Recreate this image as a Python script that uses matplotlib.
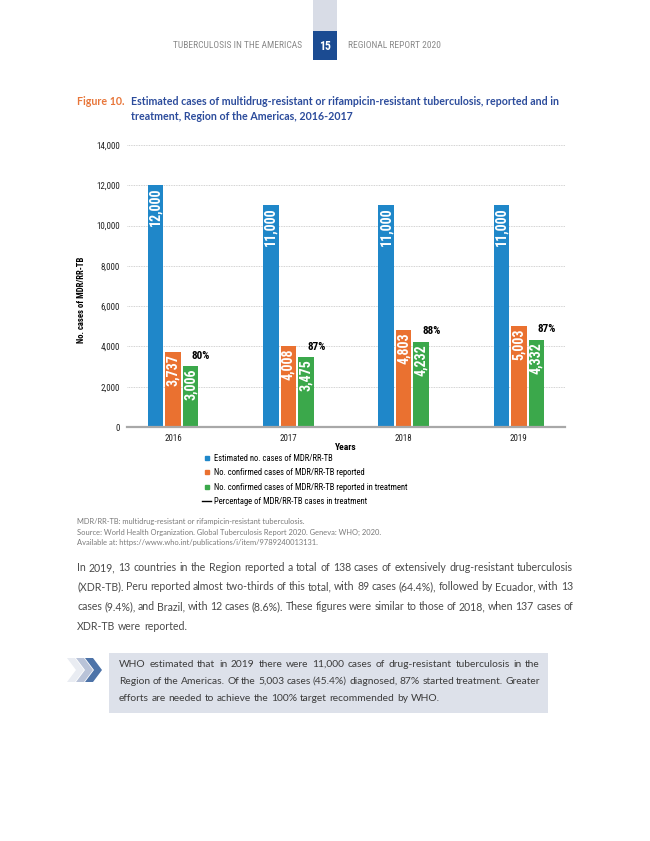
import numpy as np
import matplotlib.pyplot as plt
from matplotlib import font_manager
from matplotlib.patches import Rectangle, Polygon
from matplotlib.lines import Line2D

# datos del grafico
years = ['2016', '2017', '2018', '2019']
estimated = [12000, 11000, 11000, 11000]
reported = [3737, 4008, 4803, 5003]
treatment = [3006, 3475, 4232, 4332]
pct_treat = [80, 87, 88, 87]

series_names = ['Estimated no. cases of MDR/RR-TB',
                'No. confirmed cases of MDR/RR-TB reported',
                'No. confirmed cases of MDR/RR-TB reported in treatment',
                'Percentage of MDR/RR-TB cases in treatment']

body_lines = [
    'In 2019, 13 countries in the Region reported a total of 138 cases of extensively drug-resistant tuberculosis',
    '(XDR-TB). Peru reported almost two-thirds of this total, with 89 cases (64.4%), followed by Ecuador, with 13',
    'cases (9.4%), and Brazil, with 12 cases (8.6%). These figures were similar to those of 2018, when 137 cases of',
    'XDR-TB were reported.',
]
box_lines = [
    'WHO estimated that in 2019 there were 11,000 cases of drug-resistant tuberculosis in the',
    'Region of the Americas. Of the 5,003 cases (45.4%) diagnosed, 87% started treatment. Greater',
    'efforts are needed to achieve the 100% target recommended by WHO.',
]
notes = [
    'MDR/RR-TB: multidrug-resistant or rifampicin-resistant tuberculosis.',
    'Source: World Health Organization. Global Tuberculosis Report 2020. Geneva: WHO; 2020.',
    'Available at: https://www.who.int/publications/i/item/9789240013131.',
]

BLUE = '#1f87c9'
ORANGE = '#ea7130'
GREEN = '#3ba84b'

# fuente estrecha: la primera que este instalada
installed = {f.name for f in font_manager.fontManager.ttflist}
narrow_pref = ['Roboto Condensed', 'Liberation Sans Narrow', 'Open Sans Condensed',
               'DejaVu Sans Condensed', 'Roboto']
narrow_name = next((n for n in narrow_pref if n in installed), 'DejaVu Sans')
NARROW = [narrow_name, 'DejaVu Sans']
BODY = ['Lato', 'DejaVu Sans']

W, H = 650, 841
fig = plt.figure(figsize=(6.5, 8.41), dpi=100)
fig.patch.set_facecolor('white')


def fx(px):
    return px / W


def fy(py):
    return 1 - py / H


def justified(line, x0, x1, y, last=False, **kw):
    # reparte las palabras entre x0 y x1 (texto justificado)
    words = line.split(' ')
    ts = [fig.text(0, fy(y), wd, va='baseline', **kw) for wd in words]
    r = fig.canvas.get_renderer()
    widths = [t.get_window_extent(r).width for t in ts]
    if last or len(words) == 1:
        gap = kw.get('fontsize', 8) * 0.26 * 100 / 72
    else:
        gap = (x1 - x0 - sum(widths)) / (len(words) - 1)
    cur = x0
    for t, wd in zip(ts, widths):
        t.set_x(fx(cur))
        cur += wd + gap


# ---------------------------------------------------------------------------
# Encabezado
fig.patches.append(Rectangle((fx(313), fy(31)), fx(24), 31 / H, transform=fig.transFigure,
                             color='#d8dce6', lw=0))
fig.patches.append(Rectangle((fx(313), fy(60)), fx(24), 29 / H, transform=fig.transFigure,
                             color='#1b4b92', lw=0))
fig.text(fx(325), fy(46), '15', color='white', fontsize=8.5, fontweight='bold',
         ha='center', va='center', family=NARROW)
fig.text(fx(302), fy(46), 'TUBERCULOSIS IN THE AMERICAS', color='#8a8a8a', fontsize=6.8,
         ha='right', va='center', family=NARROW)
fig.text(fx(348), fy(46), 'REGIONAL REPORT 2020', color='#8a8a8a', fontsize=6.8,
         ha='left', va='center', family=NARROW)

# Titulo de la figura
fig.text(fx(77), fy(105), 'Figure 10.', color='#e8763a', fontsize=7.7, family=BODY,
         fontweight='bold', va='baseline')
fig.text(fx(131), fy(105), 'Estimated cases of multidrug-resistant or rifampicin-resistant tuberculosis, reported and in',
         color='#2c4c9c', fontsize=7.7, family=BODY, fontweight='bold', va='baseline')
fig.text(fx(131), fy(120), 'treatment, Region of the Americas, 2016-2017',
         color='#2c4c9c', fontsize=7.7, family=BODY, fontweight='bold', va='baseline')

# ---------------------------------------------------------------------------
# Grafico de barras
ax = fig.add_axes([fx(127), fy(427), fx(565) - fx(127), fy(145) - fy(427)])
x = np.arange(len(years))
w = 0.135
off = 0.152
ax.bar(x - off, estimated, w, color=BLUE, zorder=2)
ax.bar(x, reported, w, color=ORANGE, zorder=2)
ax.bar(x + off, treatment, w, color=GREEN, zorder=2)

for i in range(len(years)):
    for dx, v in [(-off, estimated[i]), (0, reported[i]), (off, treatment[i])]:
        ax.text(x[i] + dx, v - 120, f'{v:,}', rotation=90, ha='center', va='top',
                color='white', fontsize=10, fontweight='bold', family=NARROW, zorder=3)
    ax.text(x[i] + off + 0.09, treatment[i] + 520, f'{pct_treat[i]}%', ha='center', va='center',
            color='black', fontsize=8, fontweight='bold', family=NARROW)

ax.set_xlim(-0.4, 3.4)
ax.set_ylim(0, 14000)
ax.set_yticks(range(0, 14001, 2000))
ax.set_yticklabels([f'{v:,}' for v in range(0, 14001, 2000)], family=NARROW, fontsize=6.5)
ax.set_xticks(x)
ax.set_xticklabels(years, family=NARROW, fontsize=6.5)
ax.tick_params(axis='y', length=0, pad=5, colors='#222222')
ax.tick_params(axis='x', length=0, pad=5, colors='#222222')
ax.yaxis.grid(True, linestyle=(0, (1, 1)), color='#c4c4c4', lw=0.6, zorder=0)
ax.set_axisbelow(True)
for s in ['top', 'right', 'left']:
    ax.spines[s].set_visible(False)
ax.spines['bottom'].set_color('#a8a8a8')
ax.spines['bottom'].set_linewidth(1.6)
ax.set_ylabel('No. cases of MDR/RR-TB', family=NARROW, fontsize=6.2, fontweight='bold')
ax.yaxis.set_label_coords((86 - 127) / 438, (427 - 300) / 282)
ax.set_xlabel('Years', family=NARROW, fontsize=6.8, fontweight='bold', labelpad=0)

handles = [Line2D([], [], marker='s', ls='', color=BLUE, markersize=3.5),
           Line2D([], [], marker='s', ls='', color=ORANGE, markersize=3.5),
           Line2D([], [], marker='s', ls='', color=GREEN, markersize=3.5),
           Line2D([], [], color='black', lw=1)]
fig.legend(handles, series_names, loc='upper left', bbox_to_anchor=(fx(198), fy(450)),
           frameon=False, prop={'family': NARROW, 'size': 6.2}, handlelength=1.0,
           handletextpad=0.4, labelspacing=0.6, borderpad=0)

# ---------------------------------------------------------------------------
# Notas
for k, t in enumerate(notes):
    fig.text(fx(77), fy(524 + 10.5 * k), t, color='#7a7a7a', fontsize=5.4, family=BODY, va='baseline')

# Parrafo
for k, t in enumerate(body_lines):
    justified(t, 77, 573, 571 + 19.5 * k, last=(k == len(body_lines) - 1),
              color='#4a4a4a', fontsize=7.6, family=BODY)

# Recuadro
fig.patches.append(Rectangle((fx(109), fy(713)), fx(548) - fx(109), 60 / H,
                             transform=fig.transFigure, color='#dde1ea', lw=0))
chev_colors = ['#e9ecf2', '#b9c3d8', '#4d73a8']
for k, c in enumerate(chev_colors):
    x0 = 67 + 9 * k
    pts = [(x0, 658), (x0 + 8, 658), (x0 + 17, 670), (x0 + 8, 682), (x0, 682), (x0 + 9, 670)]
    fig.patches.append(Polygon([(fx(a), fy(b)) for a, b in pts], closed=True,
                               transform=fig.transFigure, color=c, lw=0))
for k, t in enumerate(box_lines):
    justified(t, 119, 540, 667 + 17 * k, last=(k == len(box_lines) - 1),
              color='#3c3c3c', fontsize=7.4, family=BODY)

fig.savefig('out.png', dpi=100)
